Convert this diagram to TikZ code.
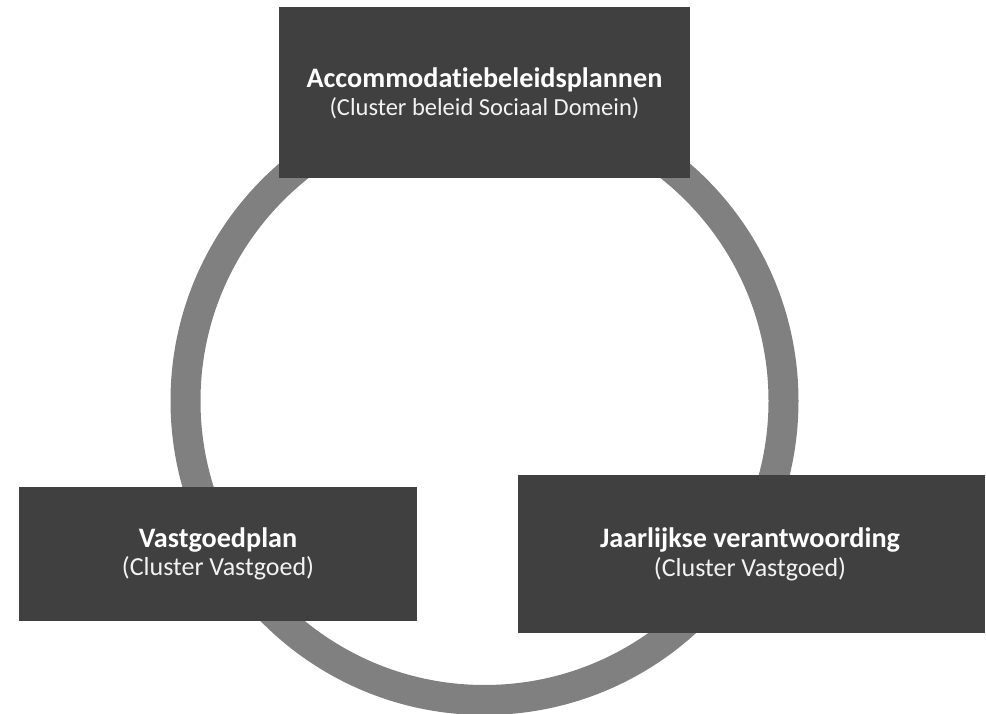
\documentclass[tikz,border=0pt]{standalone}
\usepackage{fontspec}
\setmainfont{Carlito}[Ligatures=NoCommon]
\definecolor{boxgray}{HTML}{404040}
\definecolor{ringgray}{HTML}{808080}
\definecolor{subwhite}{HTML}{F2F2F2}
\begin{document}
\begin{tikzpicture}[x=1pt,y=-1pt,
  panel/.style={fill=boxgray, draw=none, inner sep=0pt, anchor=north west},
  titletext/.style={text=white, font=\fontsize{28.2}{32}\selectfont\bfseries, anchor=base, inner sep=0pt},
  subtext/.style={text=subwhite, font=\fontsize{26}{30}\selectfont, anchor=base, inner sep=0pt}]
\useasboundingbox (0,0) rectangle (986,714);
\fill[white] (0,0) rectangle (986,714);
% ring
\coordinate (c) at (484.5,401);
\draw[ringgray, line width=30pt] (c) circle (299pt);
% boxes
\node[panel, minimum width=411pt, minimum height=171pt] (top) at (279,7) {};
\node[panel, minimum width=398pt, minimum height=134pt] (left) at (19,487) {};
\node[panel, minimum width=467pt, minimum height=158pt] (right) at (518,475) {};
% texts
\node[titletext] (toptitle) at (484.5,88) {Accommodatiebeleidsplannen};
\node[subtext, font=\fontsize{24.5}{29}\selectfont] (topsub) at (484.5,115.5) {(Cluster beleid Sociaal Domein)};
\node[titletext] (lefttitle) at (218,547) {Vastgoedplan};
\node[subtext] (leftsub) at (218,575.5) {(Cluster Vastgoed)};
\node[titletext] (righttitle) at (750,547) {Jaarlijkse verantwoording};
\node[subtext] (rightsub) at (750,576.5) {(Cluster Vastgoed)};
\end{tikzpicture}
\end{document}
